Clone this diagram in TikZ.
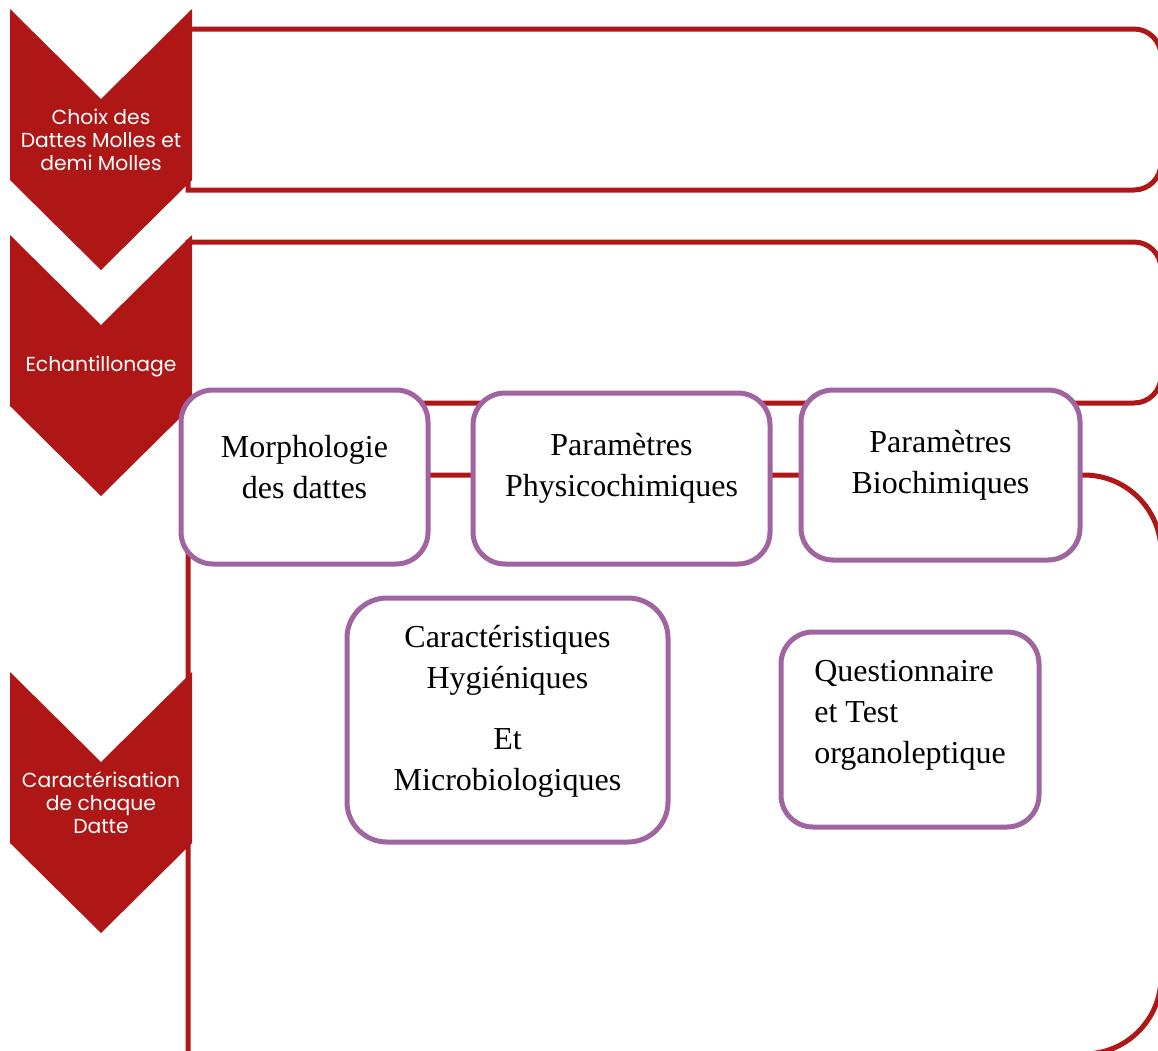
\documentclass[tikz,border=0pt]{standalone}
\usepackage{fontspec}
\setmainfont{Liberation Serif}
\newfontfamily\etapefont{Poppins}
\definecolor{rougedatte}{RGB}{175,22,22}
\definecolor{violetbloc}{RGB}{160,100,160}
\tikzset{
    cadre/.style={draw=rougedatte,line width=5pt},
    chevron/.style={fill=rougedatte},
    etape/.style={text=white,align=center,font=\etapefont\fontsize{20.3}{23}\selectfont},
    bloc/.style={draw=violetbloc,fill=white,line width=5pt,rounded corners=32pt},
    texte/.style={align=center,font=\fontsize{32}{41}\selectfont}
}

\begin{document}
\begin{tikzpicture}[x=1pt,y=-1pt]
    \useasboundingbox (0,0) rectangle (1158,1050);

    % cadres rouges
    \draw[cadre] (188,190) |- (1134,29) arc (-90:0:27) -- (1161,163) arc (0:90:27) -- cycle;
    \draw[cadre] (188,403) |- (1134,242) arc (-90:0:27) -- (1161,376) arc (0:90:27) -- cycle;
    \draw[cadre] (188,1070) |- (1084,475) arc (-90:0:77) -- (1161,977) arc (0:90:77) -- (600,1054);

    % chevrons
    \fill[chevron] (10,9) -- (101,99) -- (192,9) -- (192,180) -- (101,270) -- (10,180) -- cycle;
    \fill[chevron,shift={(0,226)}] (10,9) -- (101,99) -- (192,9) -- (192,180) -- (101,270) -- (10,180) -- cycle;
    \fill[chevron,shift={(0,663)}] (10,9) -- (101,99) -- (192,9) -- (192,180) -- (101,270) -- (10,180) -- cycle;

    \node[etape] (choix) at (101,140) {Choix des\\Dattes Molles et\\demi Molles};
    \node[etape] (echant) at (101,367) {Echantillonage};
    \node[etape] (carac) at (101,803) {Caractérisation\\de chaque\\Datte};

    % blocs
    \node[bloc,minimum width=247pt,minimum height=174pt] (morpho) at (304.5,477) {};
    \node[bloc,minimum width=297pt,minimum height=171pt] (physico) at (621.5,478.5) {};
    \node[bloc,minimum width=279pt,minimum height=170pt] (biochim) at (940.5,475) {};
    \node[bloc,rounded corners=40pt,minimum width=321pt,minimum height=244pt] (hygiene) at (507.5,720) {};
    \node[bloc,minimum width=258pt,minimum height=195pt] (questio) at (910,729.5) {};

    \node[texte] (morphoT) at ([yshift=10pt]morpho.center) {Morphologie\\des dattes};
    \node[texte] (physicoT) at ([yshift=10pt]physico.center) {Paramètres\\Physicochimiques};
    \node[texte] (biochimT) at ([yshift=10pt]biochim.center) {Paramètres\\Biochimiques};
    \node[texte] (hygieneT) at ([yshift=9pt]hygiene.center) {Caractéristiques\\Hygiéniques\\[20pt]Et\\Microbiologiques};
    \node[texte,align=left] (questioT) at ([yshift=14pt]questio.center) {Questionnaire\\et Test\\organoleptique};
\end{tikzpicture}
\end{document}
